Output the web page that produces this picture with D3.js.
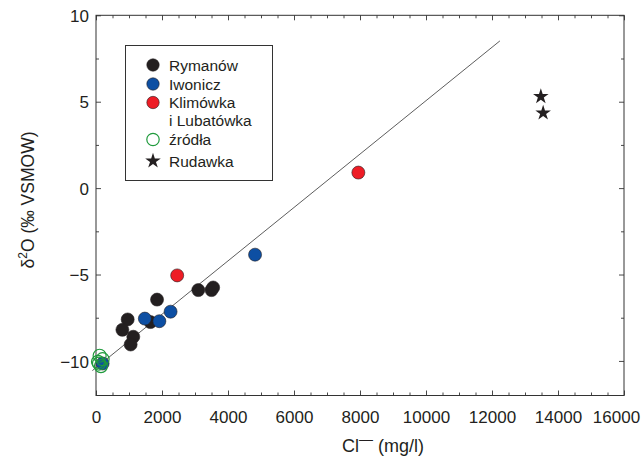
<!DOCTYPE html>
<html>
<head>
<meta charset="utf-8">
<script src="https://cdn.jsdelivr.net/npm/d3@7"></script>
<style>
  body { margin: 0; background: #fff; }
  text { font-family: "Liberation Sans", Arial, sans-serif; fill: #231f20; }
</style>
</head>
<body>
<div id="chart"></div>
<script>
// data (Cl- mg/l, d2O permil)
const rymanowCl = [3100, 3500, 3550, 1850, 1650, 960, 800, 1130, 1050];
const rymanowD = [-5.9, -5.9, -5.75, -6.45, -7.75, -7.6, -8.2, -8.6, -9.05];
const iwoniczCl = [1480, 1920, 2260, 4820, 200];
const iwoniczD = [-7.55, -7.7, -7.15, -3.85, -10.15];
const klimowkaCl = [2460, 7950];
const klimowkaD = [-5.05, 0.9];
const zrodlaCl = [110, 60, 150, 200, 90];
const zrodlaD = [-9.7, -10.05, -10.3, -9.9, -10.15];
const rudawkaCl = [13480, 13550];
const rudawkaD = [5.3, 4.35];
const trendCl = [-110, 12240];
const trendD = [-10.56, 8.52];

const xTicks = [0, 2000, 4000, 6000, 8000, 10000, 12000, 14000, 16000];
const yTicks = [-10, -5, 0, 5, 10];

const W = 642, H = 457;
const margin = { top: 15.3, right: 18, bottom: 61.5, left: 96 };

const svg = d3.select("#chart").append("svg")
    .attr("width", W).attr("height", H);

const x = d3.scaleLinear().domain([0, 16000]).range([margin.left, W - margin.right]);
const y = d3.scaleLinear().domain([-12, 10]).range([H - margin.bottom, margin.top]);

const axisColor = "#333";
const xMinor = d3.range(0, 16001, 500).filter(v => v % 2000 !== 0);
const yMinor = [-7.5, -2.5, 2.5, 7.5];

function styleAxis(g) {
    g.select(".domain").remove();
    g.selectAll(".tick line").attr("stroke", axisColor).attr("stroke-width", 0.9);
}

// major + minor ticks on all four sides, pointing inwards
const bottomY = y.range()[0], topY = y.range()[1];
const leftX = x.range()[0], rightX = x.range()[1];

svg.append("g").attr("transform", `translate(0,${bottomY})`)
    .call(d3.axisBottom(x).tickValues(xTicks).tickSize(-5).tickFormat(d3.format("d")))
    .call(styleAxis)
    .call(g => g.selectAll(".tick text")
        .attr("y", 27).attr("dy", 0).attr("font-size", 17)
        .attr("font-family", "Liberation Sans, Arial, sans-serif").attr("fill", "#231f20"))
    .call(g => g.selectAll(".tick text").filter(d => d === 16000).attr("dx", -8));
svg.append("g").attr("transform", `translate(0,${bottomY})`)
    .call(d3.axisBottom(x).tickValues(xMinor).tickSize(-3).tickFormat(""))
    .call(styleAxis);
svg.append("g").attr("transform", `translate(0,${topY})`)
    .call(d3.axisTop(x).tickValues(xTicks).tickSize(-5).tickFormat(""))
    .call(styleAxis);
svg.append("g").attr("transform", `translate(0,${topY})`)
    .call(d3.axisTop(x).tickValues(xMinor).tickSize(-3).tickFormat(""))
    .call(styleAxis);

svg.append("g").attr("transform", `translate(${leftX},0)`)
    .call(d3.axisLeft(y).tickValues(yTicks).tickSize(-5).tickFormat(d => d < 0 ? "\u2212" + Math.abs(d) : d))
    .call(styleAxis)
    .call(g => g.selectAll(".tick text")
        .attr("x", -7).attr("dy", "0.36em").attr("font-size", 17)
        .attr("font-family", "Liberation Sans, Arial, sans-serif").attr("fill", "#231f20"));
svg.append("g").attr("transform", `translate(${leftX},0)`)
    .call(d3.axisLeft(y).tickValues(yMinor).tickSize(-3).tickFormat(""))
    .call(styleAxis);
svg.append("g").attr("transform", `translate(${rightX},0)`)
    .call(d3.axisRight(y).tickValues(yTicks).tickSize(-5).tickFormat(""))
    .call(styleAxis);
svg.append("g").attr("transform", `translate(${rightX},0)`)
    .call(d3.axisRight(y).tickValues(yMinor).tickSize(-3).tickFormat(""))
    .call(styleAxis);

// frame
svg.append("rect")
    .attr("x", leftX).attr("y", topY)
    .attr("width", rightX - leftX).attr("height", bottomY - topY)
    .attr("fill", "none").attr("stroke", axisColor).attr("stroke-width", 1);

// axis titles
svg.append("text")
    .attr("transform", `translate(34,200) rotate(-90)`)
    .attr("text-anchor", "middle").attr("font-size", 17.5)
    .call(t => {
        t.append("tspan").text("\u03b4");
        t.append("tspan").attr("dy", -7).attr("font-size", 12).text("2");
        t.append("tspan").attr("dy", 7).text("O (\u2030 VSMOW)");
    });
svg.append("text")
    .attr("x", 383).attr("y", 452)
    .attr("text-anchor", "middle").attr("font-size", 18)
    .call(t => {
        t.append("tspan").text("Cl");
        t.append("tspan").attr("dy", -8).attr("font-size", 14).text("\u2014");
        t.append("tspan").attr("dy", 8).text(" (mg/l)");
    });

// trend line
svg.append("line")
    .attr("x1", x(trendCl[0])).attr("y1", y(trendD[0]))
    .attr("x2", x(trendCl[1])).attr("y2", y(trendD[1]))
    .attr("stroke", "#333").attr("stroke-width", 0.8);

const R = 6.5;
function dots(cl, d, fill) {
    svg.append("g").selectAll("circle")
        .data(d3.zip(cl, d)).enter().append("circle")
        .attr("cx", p => x(p[0])).attr("cy", p => y(p[1]))
        .attr("r", R)
        .attr("fill", fill).attr("stroke", "#231f20").attr("stroke-width", 0.6);
}
dots(rymanowCl, rymanowD, "#231f20");
dots(iwoniczCl, iwoniczD, "#0d4fa3");
dots(klimowkaCl, klimowkaD, "#ee1c25");

svg.append("g").selectAll("circle")
    .data(d3.zip(zrodlaCl, zrodlaD)).enter().append("circle")
    .attr("cx", p => x(p[0])).attr("cy", p => y(p[1]))
    .attr("r", R).attr("fill", "none")
    .attr("stroke", "#1f9a3c").attr("stroke-width", 1.2);

const star = d3.symbol().type(d3.symbolStar).size(75);
svg.append("g").selectAll("path")
    .data(d3.zip(rudawkaCl, rudawkaD)).enter().append("path")
    .attr("d", star)
    .attr("transform", p => `translate(${x(p[0])},${y(p[1])})`)
    .attr("fill", "#231f20");

// legend
const legend = svg.append("g");
legend.append("rect")
    .attr("x", 125.5).attr("y", 45.5).attr("width", 147).attr("height", 135)
    .attr("fill", "#fff").attr("stroke", axisColor).attr("stroke-width", 1);

const legendItems = [
    { label: ["Rymanów"], kind: "dot", color: "#231f20", y: 65 },
    { label: ["Iwonicz"], kind: "dot", color: "#0d4fa3", y: 84 },
    { label: ["Klimówka", "i Lubatówka"], kind: "dot", color: "#ee1c25", y: 102.5 },
    { label: ["źródła"], kind: "ring", color: "#1f9a3c", y: 139.5 },
    { label: ["Rudawka"], kind: "star", color: "#231f20", y: 161 }
];
legendItems.forEach(it => {
    if (it.kind === "star") {
        legend.append("path").attr("d", star)
            .attr("transform", `translate(153,${it.y})`).attr("fill", it.color);
    } else {
        legend.append("circle").attr("cx", 153).attr("cy", it.y).attr("r", 6.2)
            .attr("fill", it.kind === "ring" ? "none" : it.color)
            .attr("stroke", it.kind === "ring" ? it.color : "#231f20")
            .attr("stroke-width", it.kind === "ring" ? 1.2 : 0.6);
    }
    it.label.forEach((l, i) => {
        legend.append("text").attr("x", 169).attr("y", it.y + 5.5 + i * 18.2)
            .attr("font-size", 15.5).text(l);
    });
});
</script>
</body>
</html>
